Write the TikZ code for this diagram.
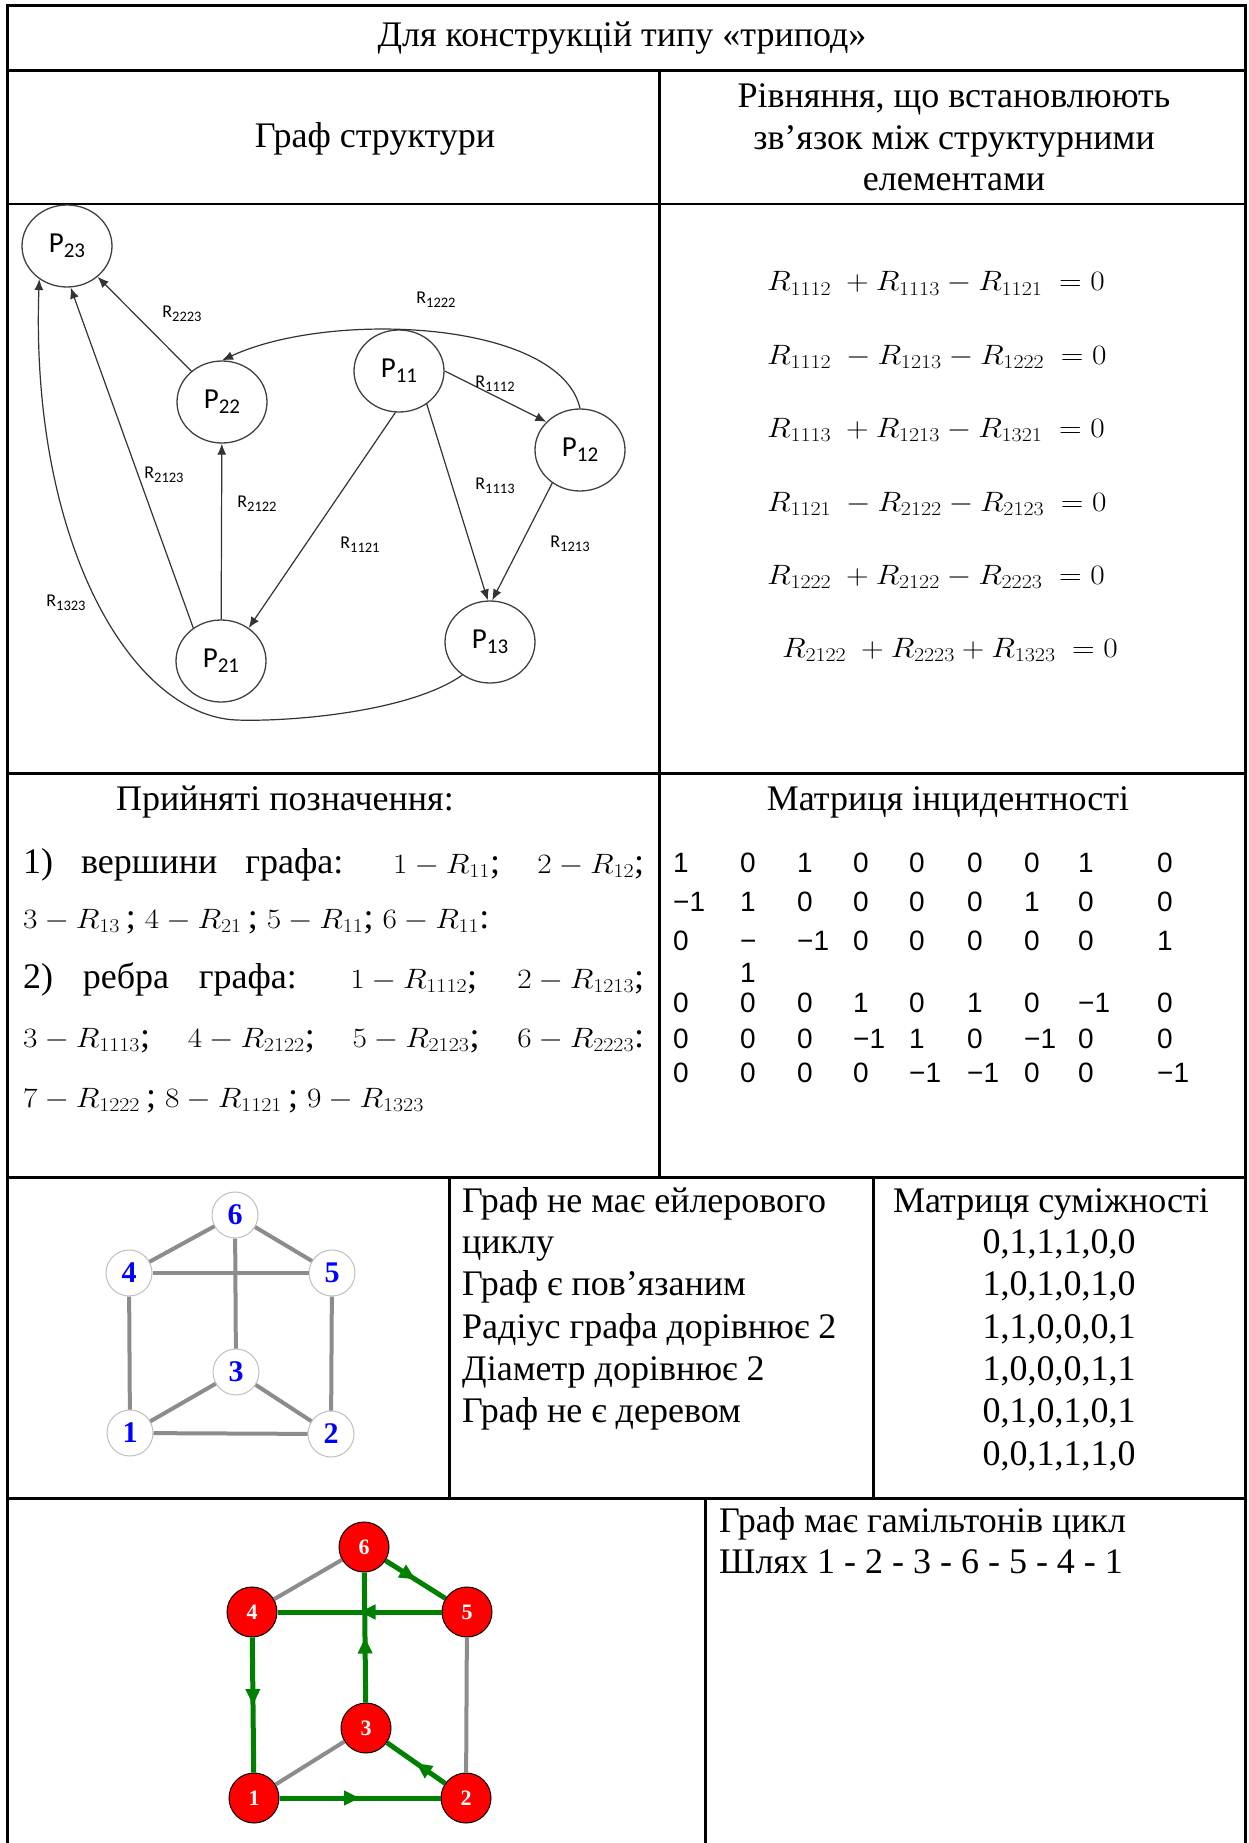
\RequirePackage{fix-cm}
\documentclass[tikz,border=0pt]{standalone}
\usepackage{graphicx}
\usepackage{fontspec}
\setmainfont{Liberation Serif}
\newfontfamily\carl{Carlito}
\newfontfamily\arl{Liberation Sans}
\usetikzlibrary{arrows.meta,shapes.geometric,decorations.markings}
\definecolor{grn}{RGB}{0,128,0}
\definecolor{gry}{RGB}{140,140,140}
\newcommand\pl[1]{{\carl\fontsize{29}{29}\selectfont P\raisebox{-5pt}{\fontsize{21}{21}\selectfont #1}}}
\newcommand\rl[1]{{\carl\fontsize{18}{18}\selectfont R\raisebox{-4pt}{\fontsize{14.5}{14.5}\selectfont #1}}}
\newcommand\mm[1]{{\fontsize{28}{30}\selectfont\scalebox{1.12}[1]{$#1$}}}
\newcommand\eqn[1]{\scalebox{1.12}[1]{$#1$}}
\begin{document}
\begin{tikzpicture}[x=1pt,y=-1pt,
  border/.style={line width=3pt},
  tx/.style={inner sep=0pt, anchor=base, font=\fontsize{36}{41}\selectfont},
  txl/.style={tx, anchor=base west},
  eq/.style={inner sep=0pt, anchor=base west, font=\fontsize{28}{30}\selectfont},
  pn/.style={ellipse, draw=black!75, line width=1.3pt, minimum width=90pt, minimum height=82pt, inner sep=0pt},
  gedge/.style={draw=black!80, line width=1.2pt, -{Latex[length=11pt,width=9pt]}},
  rlab/.style={inner sep=0pt},
  mx/.style={inner sep=0pt, anchor=base west, font=\arl\fontsize{28}{28}\selectfont},
  bnode/.style={circle, draw=black!25, fill=white, line width=1pt, minimum size=46pt, inner sep=0pt, text=blue, font=\bfseries\fontsize{30}{30}\selectfont},
  rnode/.style={circle, draw=black, fill=red, line width=1pt, minimum size=50pt, inner sep=0pt, text=white, font=\bfseries\fontsize{22}{22}\selectfont},
  gline/.style={draw=gry, line width=4pt},
  hline/.style={draw=grn, line width=5pt, decoration={markings, mark=at position 0.5 with {\arrow{Triangle[length=16pt,width=14pt]}}}, postaction={decorate}}
]
\useasboundingbox (0,0) rectangle (1248,1843);
\fill[white] (0,0) rectangle (1248,1843);

% ---------- table lines ----------
\draw[border] (7,1843) -- (7,6) -- (1245,6) -- (1245,1843);
\draw[border] (7,71) -- (1245,71);
\draw[line width=2pt] (7,204) -- (1245,204);
\draw[border] (7,773) -- (1245,773);
\draw[border] (7,1177) -- (1245,1177);
\draw[border] (7,1498) -- (1245,1498);
\draw[border] (659,71) -- (659,1177);
\draw[border] (449,1177) -- (449,1498);
\draw[border] (873,1177) -- (873,1498);
\draw[border] (705,1498) -- (705,1843);

% ---------- headers ----------
\node[tx] (h1) at (622,47) {Для конструкцій типу «трипод»};
\node[tx] (h2l) at (375,148) {Граф структури};
\node[tx] (h2r1) at (954,108) {Рівняння, що встановлюють};
\node[tx] (h2r2) at (954,150) {зв’язок між структурними};
\node[tx] (h2r3) at (954,191) {елементами};

% ---------- structure graph ----------
\node[pn] (P23) at (67,246) {\pl{23}};
\node[pn] (P22) at (222,402) {\pl{22}};
\node[pn] (P11) at (399,371) {\pl{11}};
\node[pn] (P12) at (580,450) {\pl{12}};
\node[pn] (P13) at (490,642) {\pl{13}};
\node[pn] (P21) at (221,661) {\pl{21}};
\coordinate (b13) at (236,720);

\draw[gedge] (P22) -- (P23);
\draw[gedge] (P21.130) -- (P23.275);
\draw[gedge] (P21) -- (P22);
\draw[gedge] (P11.265) -- (P21.50);
\draw[gedge] (P11.east) -- (P12.140);
\draw[gedge] (P11.-50) -- (P13.93);
\draw[gedge] (P12.230) -- (P13.87);
\draw[gedge] (P12.north) .. controls (560,320) and (330,310) .. (P22.north);
\draw[gedge] (P13.230) .. controls (410,712) and (290,722) .. (b13) .. controls (130,715) and (30,540) .. (P23.230);

\node[rlab] (r2223) at (182,314) {\rl{2223}};
\node[rlab] (r1222) at (436,300) {\rl{1222}};
\node[rlab] (r1112) at (495,384) {\rl{1112}};
\node[rlab] (r2123) at (164,475) {\rl{2123}};
\node[rlab] (r2122) at (257,504) {\rl{2122}};
\node[rlab] (r1113) at (495,486) {\rl{1113}};
\node[rlab] (r1121) at (360,545) {\rl{1121}};
\node[rlab] (r1213) at (570,544) {\rl{1213}};
\node[rlab] (r1323) at (66,603) {\rl{1323}};

% ---------- equations ----------
\node[eq] (e1) at (767,291) {\eqn{R_{1112}\ +R_{1113}-R_{1121}\ =0}};
\node[eq] (e2) at (767,364) {\eqn{R_{1112}\ -R_{1213}-R_{1222}\ =0}};
\node[eq] (e3) at (767,437) {\eqn{R_{1113}\ +R_{1213}-R_{1321}\ =0}};
\node[eq] (e4) at (767,511) {\eqn{R_{1121}\ -R_{2122}-R_{2123}\ =0}};
\node[eq] (e5) at (767,584) {\eqn{R_{1222}\ +R_{2122}-R_{2223}\ =0}};
\node[eq] (e6) at (782,657) {\eqn{R_{2122}\ +R_{2223}+R_{1323}\ =0}};

% ---------- notation ----------
\node[tx] (h4l) at (285,810) {Прийняті позначення:};
\node[tx] (h4r) at (948,810) {Матриця інцидентності};
\node[txl] (l1) at (23,873) {\makebox[621pt][s]{1)\ вершини графа: \mm{1-R_{11}}; \mm{2-R_{12}};}};
\node[txl] (l2) at (23,928) {\mm{3-R_{13}}\,; \mm{4-R_{21}}\,; \mm{5-R_{11}}; \mm{6-R_{11}}:};
\node[txl] (l3) at (23,988) {\makebox[621pt][s]{2)\ ребра графа: \mm{1-R_{1112}}; \mm{2-R_{1213}};}};
\node[txl] (l4) at (23,1047) {\makebox[621pt][s]{\mm{3-R_{1113}}; \mm{4-R_{2122}}; \mm{5-R_{2123}}; \mm{6-R_{2223}}:}};
\node[txl] (l5) at (23,1107) {\mm{7-R_{1222}}\,; \mm{8-R_{1121}}\,; \mm{9-R_{1323}}};

% ---------- incidence matrix ----------
\foreach \vals [count=\r] in {{1,0,1,0,0,0,0,1,0},{−1,1,0,0,0,0,1,0,0},{0,−,−1,0,0,0,0,0,1},{0,0,0,1,0,1,0,−1,0},{0,0,0,−1,1,0,−1,0,0},{0,0,0,0,−1,−1,0,0,−1}}{
  \pgfmathsetmacro\yy{{872,911,950,1012,1048,1082}[\r-1]}
  \foreach \v [count=\c] in \vals {
    \pgfmathsetmacro\xx{{673,740,797,853,909,967,1024,1078,1157}[\c-1]}
    \node[mx] (m\r-\c) at (\xx,\yy) {\v};
  }
}
\node[mx] (m3b) at (740,982) {1};

% ---------- row 5: graph ----------
\node[bnode] (a6) at (235,1215) {6};
\node[bnode] (a4) at (129,1273) {4};
\node[bnode] (a5) at (332,1273) {5};
\node[bnode] (a3) at (236,1372) {3};
\node[bnode] (a1) at (130,1433) {1};
\node[bnode] (a2) at (331,1434) {2};
\draw[gline] (a6) -- (a4);
\draw[gline] (a6) -- (a5);
\draw[gline] (a4) -- (a5);
\draw[gline] (a4) -- (a1);
\draw[gline] (a5) -- (a2);
\draw[gline] (a6) -- (a3);
\draw[gline] (a3) -- (a1);
\draw[gline] (a3) -- (a2);
\draw[gline] (a1) -- (a2);

\node[txl] (t1) at (462,1212) {Граф не має ейлерового};
\node[txl] (t2) at (462,1253) {циклу};
\node[txl] (t3) at (462,1295) {Граф є пов’язаним};
\node[txl] (t4) at (462,1338) {Радіус графа дорівнює 2};
\node[txl] (t5) at (462,1380) {Діаметр дорівнює 2};
\node[txl] (t6) at (462,1422) {Граф не є деревом};

\node[tx] (s0) at (1051,1212) {Матриця суміжності};
\node[tx] (s1) at (1059,1253) {0,1,1,1,0,0};
\node[tx] (s2) at (1059,1295) {1,0,1,0,1,0};
\node[tx] (s3) at (1059,1338) {1,1,0,0,0,1};
\node[tx] (s4) at (1059,1380) {1,0,0,0,1,1};
\node[tx] (s5) at (1059,1422) {0,1,0,1,0,1};
\node[tx] (s6) at (1059,1465) {0,0,1,1,1,0};

% ---------- row 6: hamiltonian cycle ----------
\node[rnode] (b6) at (364,1547) {6};
\node[rnode] (b4) at (252,1612) {4};
\node[rnode] (b5) at (467,1612) {5};
\node[rnode] (b3) at (366,1728) {3};
\node[rnode] (b1) at (254,1798) {1};
\node[rnode] (b2) at (466,1798) {2};
\draw[gline] (b6) -- (b4);
\draw[gline] (b3) -- (b1);
\draw[gline] (b5) -- (b2);
\draw[hline] (b1) -- (b2);
\draw[hline] (b2) -- (b3);
\draw[hline] (b3) -- (b6);
\draw[hline] (b6) -- (b5);
\draw[hline] (b5) -- (b4);
\draw[hline] (b4) -- (b1);

\node[txl] (u1) at (719,1532) {Граф має гамільтонів цикл};
\node[txl] (u2) at (719,1573) {Шлях 1 - 2 - 3 - 6 - 5 - 4 - 1};
\end{tikzpicture}
\end{document}
